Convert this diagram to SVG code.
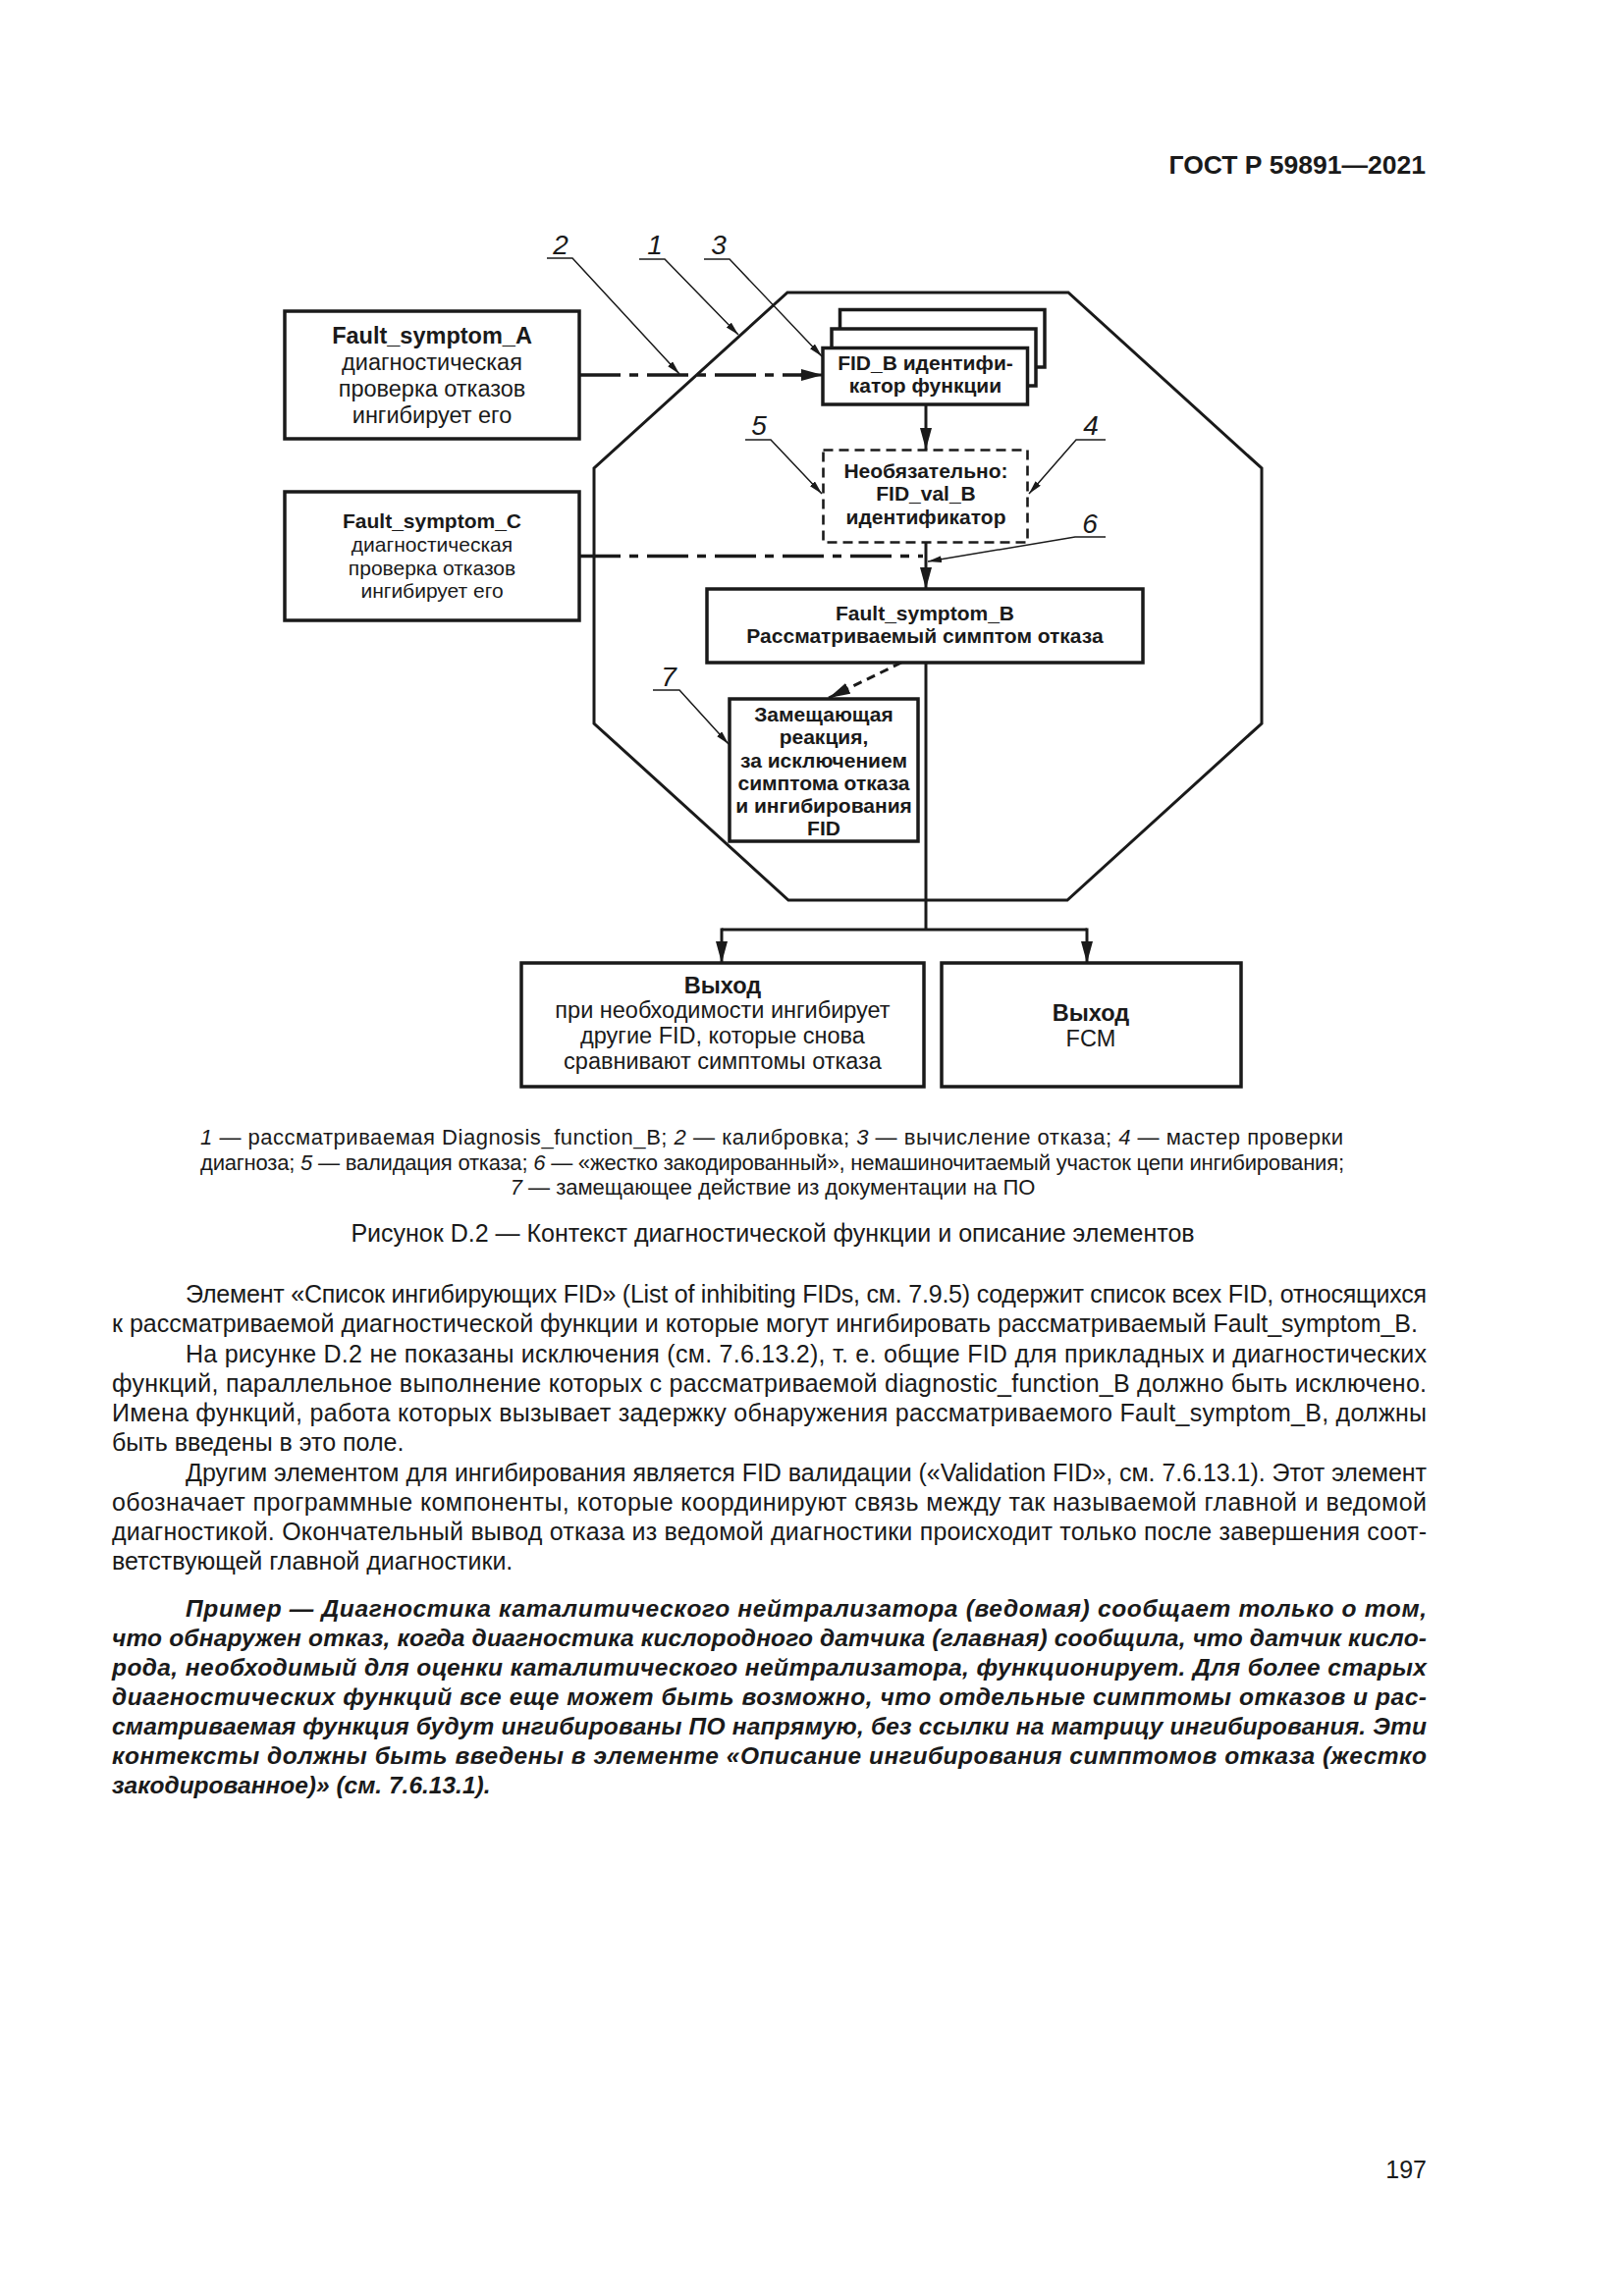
<svg xmlns="http://www.w3.org/2000/svg" width="1654" height="2339" viewBox="0 0 1654 2339">
<defs>
<marker id="big" markerUnits="userSpaceOnUse" markerWidth="24" markerHeight="14" refX="22" refY="6" orient="auto">
<path d="M0,0 L22,6 L0,12 z" fill="#1a1a1a"/>
</marker>
<marker id="small" markerUnits="userSpaceOnUse" markerWidth="16" markerHeight="8" refX="14" refY="3.5" orient="auto">
<path d="M0,0 L14,3.5 L0,7 z" fill="#1a1a1a"/>
</marker>
</defs>
<style>
text{font-family:"Liberation Sans",Arial,sans-serif;fill:#1a1a1a}
.box{fill:#fff;stroke:#1a1a1a;stroke-width:3.5}
.dbox{fill:#fff;stroke:#1a1a1a;stroke-width:2.6;stroke-dasharray:10 6}
.oct{fill:none;stroke:#1a1a1a;stroke-width:3}
.ln{fill:none;stroke:#1a1a1a;stroke-width:3}
.dd{fill:none;stroke:#1a1a1a;stroke-width:3.5;stroke-dasharray:42 9 9 9}
.dsh{fill:none;stroke:#1a1a1a;stroke-width:3;stroke-dasharray:9 6}
.ld{fill:none;stroke:#1a1a1a;stroke-width:1.5}
.b{font-weight:bold}
.c{text-anchor:middle}
.num{font-style:italic;font-size:28px;text-anchor:middle}
.t23{font-size:23.5px}
.t21{font-size:21px}
.body{font-size:25px}
.ex{font-size:24.5px;font-weight:bold;font-style:italic}
.leg{font-size:22px}
</style>
<rect x="0" y="0" width="1654" height="2339" fill="#fff"/>

<text x="1452" y="177" font-size="26.5" font-weight="bold" text-anchor="end">ГОСТ Р 59891—2021</text>

<!-- octagon: Diagnosis_function_B -->
<g id="diagnosis_function_B">
<polygon class="oct" points="802,298 1088,298 1285,477 1285,737 1087,917 803,917 605,737 605,477"/>
</g>

<g id="fault_symptom_A">
<rect class="box" x="290" y="317" width="300" height="130"/>
<text class="c b t23" x="440" y="350" font-size="23">Fault_symptom_A</text>
<text class="c t23" x="440" y="377">диагностическая</text>
<text class="c t23" x="440" y="404">проверка отказов</text>
<text class="c t23" x="440" y="431">ингибирует его</text>
</g>

<g id="fault_symptom_C">
<rect class="box" x="290" y="501" width="300" height="131"/>
<text class="c b t21" x="440" y="538">Fault_symptom_C</text>
<text class="c t21" x="440" y="562">диагностическая</text>
<text class="c t21" x="440" y="585.5">проверка отказов</text>
<text class="c t21" x="440" y="609">ингибирует его</text>
</g>

<g id="fid_B">
<rect class="box" x="855.5" y="315.5" width="208.5" height="58.5"/>
<rect class="box" x="847" y="335" width="208" height="58"/>
<rect class="box" x="838" y="354.5" width="208.5" height="57.5"/>
<text class="c b t21" x="942.5" y="377">FID_B идентифи-</text>
<text class="c b t21" x="942.5" y="400">катор функции</text>
</g>

<g id="fid_val_B">
<rect class="dbox" x="838.5" y="458.5" width="208" height="94"/>
<text class="c b t21" x="943" y="487">Необязательно:</text>
<text class="c b t21" x="943" y="510">FID_val_B</text>
<text class="c b t21" x="943" y="533.5">идентификатор</text>
</g>

<g id="fault_symptom_B">
<rect class="box" x="720" y="600" width="444" height="75"/>
<text class="c b t21" x="942" y="632">Fault_symptom_B</text>
<text class="c b t21" x="942" y="655">Рассматриваемый симптом отказа</text>
</g>

<g id="substitute_reaction">
<rect class="box" x="743" y="712" width="192" height="145"/>
<text class="c b t21" x="839" y="735">Замещающая</text>
<text class="c b t21" x="839" y="758">реакция,</text>
<text class="c b t21" x="839" y="781.5">за исключением</text>
<text class="c b t21" x="839" y="804.5">симптома отказа</text>
<text class="c b t21" x="839" y="827.5">и ингибирования</text>
<text class="c b t21" x="839" y="850.5">FID</text>
</g>

<g id="output_inhibit">
<rect class="box" x="531" y="981" width="410" height="126"/>
<text class="c b t23" x="736" y="1012">Выход</text>
<text class="c t23" x="736" y="1037">при необходимости ингибирует</text>
<text class="c t23" x="736" y="1063">другие FID, которые снова</text>
<text class="c t23" x="736" y="1089">сравнивают симптомы отказа</text>
</g>

<g id="output_fcm">
<rect class="box" x="959" y="981" width="305" height="126"/>
<text class="c b t23" x="1111" y="1040">Выход</text>
<text class="c t23" x="1111" y="1066">FCM</text>
</g>

<g id="connectors">
<path class="dd" d="M590,382 L820,382"/>
<path class="ln" d="M815,382 L838,382" marker-end="url(#big)"/>
<path class="ln" d="M943,412 L943,458" marker-end="url(#big)"/>
<path class="dd" d="M590,566.5 L940,566.5"/>
<path class="ln" d="M943,552.5 L943,600" marker-end="url(#big)"/>
<path class="dsh" d="M918,675 L844,711" marker-end="url(#big)"/>
<path class="ln" d="M943,675 L943,947"/>
<path class="ln" d="M735,947 L1107,947"/>
<path class="ln" d="M735,945.5 L735,981" marker-end="url(#big)"/>
<path class="ln" d="M1107,945.5 L1107,981" marker-end="url(#big)"/>
</g>

<g id="callouts">
<text class="num" x="571" y="259">2</text>
<path class="ld" d="M557,263 L583,263 L692,381" marker-end="url(#small)"/>
<text class="num" x="667" y="259">1</text>
<path class="ld" d="M651,264 L677,264 L752,341" marker-end="url(#small)"/>
<text class="num" x="732" y="259">3</text>
<path class="ld" d="M717,264 L743,264 L837,363" marker-end="url(#small)"/>
<text class="num" x="773" y="443">5</text>
<path class="ld" d="M759,448 L785,448 L837,503" marker-end="url(#small)"/>
<text class="num" x="1111" y="443">4</text>
<path class="ld" d="M1126,448 L1096,448 L1048,503" marker-end="url(#small)"/>
<text class="num" x="1110" y="543">6</text>
<path class="ld" d="M1126,547 L1095,547 L945,572" marker-end="url(#small)"/>
<text class="num" x="681" y="699">7</text>
<path class="ld" d="M665,703 L692,703 L742,758" marker-end="url(#small)"/>
</g>

<g id="legend">
<text class="leg" x="204" y="1166" textLength="1164" lengthAdjust="spacing"><tspan font-style="italic">1</tspan> — рассматриваемая Diagnosis_function_B; <tspan font-style="italic">2</tspan> — калибровка; <tspan font-style="italic">3</tspan> — вычисление отказа; <tspan font-style="italic">4</tspan> — мастер проверки</text>
<text class="leg" x="204" y="1192" textLength="1165" lengthAdjust="spacing">диагноза; <tspan font-style="italic">5</tspan> — валидация отказа; <tspan font-style="italic">6</tspan> — «жестко закодированный», немашиночитаемый участок цепи ингибирования;</text>
<text class="leg" x="787" y="1217" text-anchor="middle"><tspan font-style="italic">7</tspan> — замещающее действие из документации на ПО</text>
<text class="body" x="787" y="1265" text-anchor="middle">Рисунок D.2 — Контекст диагностической функции и описание элементов</text>
</g>

<g id="body-text">
<text class="body" x="189" y="1327" textLength="1264" lengthAdjust="spacing">Элемент «Список ингибирующих FID» (List of inhibiting FIDs, см. 7.9.5) содержит список всех FID, относящихся</text>
<text class="body" x="114" y="1357" textLength="1330" lengthAdjust="spacing">к рассматриваемой диагностической функции и которые могут ингибировать рассматриваемый Fault_symptom_B.</text>
<text class="body" x="189" y="1388" textLength="1264" lengthAdjust="spacing">На рисунке D.2 не показаны исключения (см. 7.6.13.2), т. е. общие FID для прикладных и диагностических</text>
<text class="body" x="114" y="1418" textLength="1339" lengthAdjust="spacing">функций, параллельное выполнение которых с рассматриваемой diagnostic_function_B должно быть исключено.</text>
<text class="body" x="114" y="1448" textLength="1339" lengthAdjust="spacing">Имена функций, работа которых вызывает задержку обнаружения рассматриваемого Fault_symptom_B, должны</text>
<text class="body" x="114" y="1478">быть введены в это поле.</text>
<text class="body" x="189" y="1509" textLength="1264" lengthAdjust="spacing">Другим элементом для ингибирования является FID валидации («Validation FID», см. 7.6.13.1). Этот элемент</text>
<text class="body" x="114" y="1539" textLength="1339" lengthAdjust="spacing">обозначает программные компоненты, которые координируют связь между так называемой главной и ведомой</text>
<text class="body" x="114" y="1569" textLength="1339" lengthAdjust="spacing">диагностикой. Окончательный вывод отказа из ведомой диагностики происходит только после завершения соот-</text>
<text class="body" x="114" y="1599">ветствующей главной диагностики.</text>

<text class="ex" x="189" y="1647" textLength="1264" lengthAdjust="spacing">Пример — Диагностика каталитического нейтрализатора (ведомая) сообщает только о том,</text>
<text class="ex" x="114" y="1677" textLength="1339" lengthAdjust="spacing">что обнаружен отказ, когда диагностика кислородного датчика (главная) сообщила, что датчик кисло-</text>
<text class="ex" x="114" y="1707" textLength="1339" lengthAdjust="spacing">рода, необходимый для оценки каталитического нейтрализатора, функционирует. Для более старых</text>
<text class="ex" x="114" y="1737" textLength="1339" lengthAdjust="spacing">диагностических функций все еще может быть возможно, что отдельные симптомы отказов и рас-</text>
<text class="ex" x="114" y="1767" textLength="1339" lengthAdjust="spacing">сматриваемая функция будут ингибированы ПО напрямую, без ссылки на матрицу ингибирования. Эти</text>
<text class="ex" x="114" y="1797" textLength="1339" lengthAdjust="spacing">контексты должны быть введены в элементе «Описание ингибирования симптомов отказа (жестко</text>
<text class="ex" x="114" y="1827">закодированное)» (см. 7.6.13.1).</text>
</g>

<text x="1453" y="2219" font-size="25" text-anchor="end">197</text>
</svg>
